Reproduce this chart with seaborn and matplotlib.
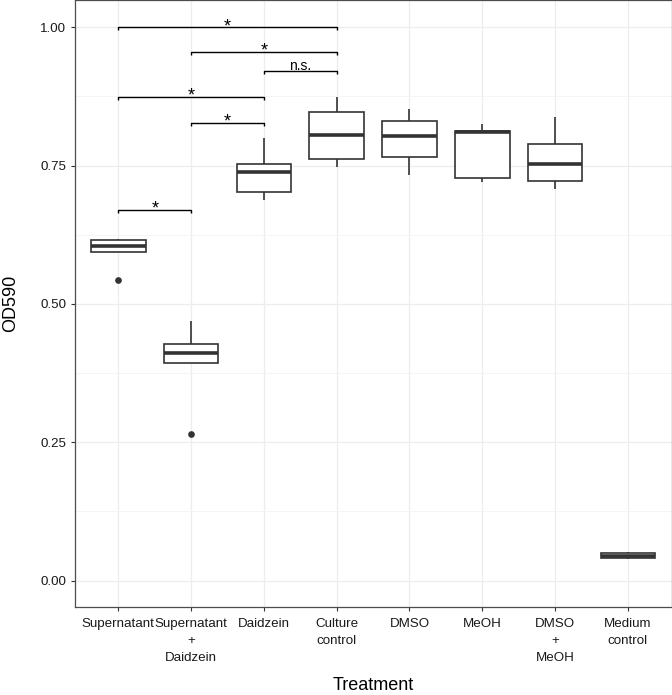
import numpy as np
import pandas as pd
import matplotlib
matplotlib.use("Agg")
import matplotlib.pyplot as plt
import seaborn as sns
from matplotlib.ticker import MultipleLocator

# ---- data ----
categories = ["Supernatant", "Supernatant\n+\nDaidzein", "Daidzein", "Culture\ncontrol",
              "DMSO", "MeOH", "DMSO\n+\nMeOH", "Medium\ncontrol"]
supernatant = [0.544, 0.593, 0.604, 0.616, 0.617]
supernatant_daidzein = [0.265, 0.3925, 0.411, 0.4275, 0.469]
daidzein = [0.688, 0.703, 0.739, 0.7536, 0.7995]
culture_control = [0.747, 0.761, 0.806, 0.8466, 0.8737]
dmso = [0.733, 0.7645, 0.803, 0.830, 0.8527]
meoh = [0.721, 0.727, 0.811, 0.8128, 0.8243]
dmso_meoh = [0.7077, 0.7222, 0.7524, 0.7886, 0.838]
medium_control = [0.040, 0.0405, 0.045, 0.0505, 0.051]

# significance brackets: (group a, group b, height, label)
bracket_a = [0, 1, 2, 0, 1, 0]
bracket_b = [3, 3, 3, 2, 2, 1]
bracket_y = [1.000, 0.955, 0.921, 0.874, 0.827, 0.670]
bracket_lab = ["*", "*", "n.s.", "*", "*", "*"]

groups = [supernatant, supernatant_daidzein, daidzein, culture_control,
          dmso, meoh, dmso_meoh, medium_control]
df = pd.DataFrame({
    "Treatment": np.repeat(categories, [len(g) for g in groups]),
    "OD590": np.concatenate(groups),
})

sns.set_theme(style="white")
plt.rcParams["font.family"] = ["Liberation Sans", "DejaVu Sans"]

fig = plt.figure(figsize=(6.72, 6.95), dpi=100)
ax = fig.add_axes([74.7 / 672, 88.3 / 695, (671.5 - 74.7) / 672, 606.7 / 695])

edge = "#333333"
sns.boxplot(data=df, x="Treatment", y="OD590", order=categories, ax=ax,
            color="white", linecolor=edge, linewidth=1.2, width=0.75,
            showcaps=False, whis=1.5, fliersize=3.8,
            flierprops=dict(marker="o", markerfacecolor=edge, markeredgecolor=edge),
            medianprops=dict(linewidth=2.6, color=edge),
            saturation=1, zorder=3)

# brackets
tip = 0.005
for a, b, y, lab in zip(bracket_a, bracket_b, bracket_y, bracket_lab):
    ax.plot([a, a, b, b], [y - tip, y, y, y - tip], color="black", lw=1.0,
            zorder=4, solid_capstyle="butt")
    if lab == "*":
        ax.text((a + b) / 2, y + 0.001, lab, ha="center", va="center",
                fontsize=13, color="black", zorder=5)
    else:
        ax.text((a + b) / 2, y + 0.0008, lab, ha="center", va="baseline",
                fontsize=10, color="black", zorder=5)

ax.set_xlim(-0.6, 7.6)
ax.set_ylim(-0.047, 1.049)
ax.yaxis.set_major_locator(MultipleLocator(0.25))
ax.yaxis.set_minor_locator(MultipleLocator(0.125))
ax.set_yticks([0, 0.25, 0.5, 0.75, 1.0])
ax.set_yticklabels(["0.00", "0.25", "0.50", "0.75", "1.00"])

ax.grid(True, which="major", color="#EBEEEE", lw=0.9, zorder=0)
ax.grid(True, which="minor", axis="y", color="#F2F4F4", lw=0.6, zorder=0)
ax.set_axisbelow(True)

for s in ax.spines.values():
    s.set_visible(True)
    s.set_color("#4D4D4D")
    s.set_linewidth(0.9)

ax.tick_params(axis="both", which="major", length=3, width=0.8, color=edge,
               labelsize=9.6, labelcolor="#1A1A1A", pad=3, left=True, bottom=True)
ax.tick_params(axis="x", which="major", pad=5)
ax.tick_params(axis="y", which="minor", length=0)
for lbl in ax.get_xticklabels():
    lbl.set_linespacing(1.55)
    lbl.set_ha("center")

ax.set_xlabel("Treatment", fontsize=13, color="black", labelpad=9.5)
ax.set_ylabel("OD590", fontsize=13, color="black", labelpad=15)

fig.savefig("out.png", dpi=100)
